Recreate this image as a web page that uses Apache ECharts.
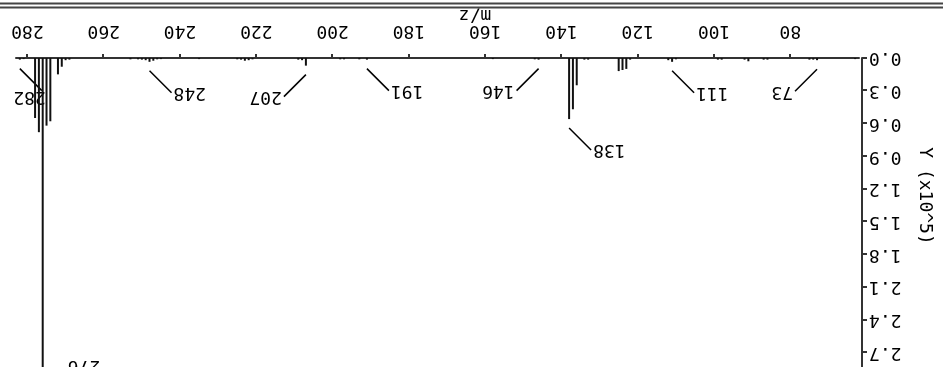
<!DOCTYPE html>
<html>
<head>
<meta charset="utf-8">
<script src="https://cdn.jsdelivr.net/npm/echarts@6/dist/echarts.min.js"></script>
<style>
  html, body { margin: 0; padding: 0; background: #fff; overflow: hidden; }
  /* the reference picture is the spectrum turned upside down; its top runs past the frame */
  #wrap { position: relative; width: 943px; height: 367px; overflow: hidden; transform: rotate(180deg); }
  #chart { position: absolute; left: 0; top: -60px; width: 943px; height: 427px; }
</style>
</head>
<body>
<div id="wrap"><div id="chart"></div></div>
<script>
// stick spectrum: m/z and intensity (x10^5)
const masses = [63, 73, 74, 75, 86, 87, 91, 92, 98, 99,
  110, 111, 112, 122, 123, 124, 125, 133, 134, 136,
  137, 138, 146, 147, 158, 191, 193, 197, 198, 207,
  208, 209, 221, 222, 223, 224, 225, 235, 245, 246,
  247, 248, 249, 250, 251, 253, 269, 270, 271, 272,
  274, 275, 276, 277, 278, 281, 282]
const intensities = [0.01, 0.02, 0.015, 0.015, 0.015, 0.015, 0.03, 0.015, 0.015, 0.015,
  0.012, 0.035, 0.02, 0.015, 0.10, 0.11, 0.12, 0.015, 0.015, 0.25,
  0.47, 0.56, 0.015, 0.012, 0.01, 0.015, 0.012, 0.012, 0.012, 0.07,
  0.02, 0.015, 0.012, 0.02, 0.025, 0.015, 0.012, 0.01, 0.01, 0.012,
  0.025, 0.035, 0.02, 0.015, 0.012, 0.012, 0.015, 0.02, 0.08, 0.15,
  0.58, 0.62, 3.1, 0.68, 0.55, 0.01, 0.015]

// labelled peaks
const labelPeaks = [73, 111, 138, 146, 191, 207, 248, 276, 282]
const xTicks = [80, 100, 120, 140, 160, 180, 200, 220, 240, 260, 280]

// leader direction (+1 = right, -1 = left) and labels drawn above the leader end
const labelDir = { 73: 1, 111: -1, 138: -1, 146: 1, 191: -1, 207: 1, 248: -1, 276: -1, 282: -1 }
const labelAbove = [282]

const FONT = 'DejaVu Sans Mono'
const FS = 18
const TOP = 60 // part of the canvas hidden above the frame
const chart = echarts.init(document.getElementById('chart'))

const option = {
  animation: false,
  backgroundColor: '#fff',
  grid: { left: 84, right: 16, bottom: 58, top: 0.5 },
  xAxis: {
    type: 'value',
    min: 62,
    max: 283,
    offset: 6,
    splitLine: { show: false },
    axisLine: { lineStyle: { color: '#333', width: 2 } },
    axisTick: { customValues: xTicks, length: 4, lineStyle: { color: '#333', width: 2 } },
    axisLabel: { customValues: xTicks, margin: 12, color: '#000', fontFamily: FONT, fontSize: FS }
  },
  yAxis: {
    type: 'value',
    min: 0,
    max: 3.3,
    interval: 0.3,
    offset: 3,
    splitLine: { show: false },
    axisLine: { show: true, lineStyle: { color: '#333', width: 2 } },
    axisTick: { show: true, length: 5, lineStyle: { color: '#333', width: 2 } },
    axisLabel: {
      margin: 7, color: '#000', fontFamily: FONT, fontSize: FS,
      formatter: function (v) { return v.toFixed(1) }
    }
  },
  graphic: [
    { type: 'line', shape: { x1: 0, y1: TOP + 359.5, x2: 943, y2: TOP + 359.5 }, style: { stroke: '#444', lineWidth: 2 } },
    { type: 'line', shape: { x1: 0, y1: TOP + 363.5, x2: 943, y2: TOP + 363.5 }, style: { stroke: '#444', lineWidth: 2 } },
    { type: 'text', x: 468, y: TOP + 352, style: { text: 'm/z', font: FS + 'px "' + FONT + '"', fill: '#000', align: 'center', verticalAlign: 'middle' } },
    { type: 'text', x: 18, y: TOP + 171, rotation: Math.PI / 2, style: { text: 'Y (x10^5)', font: FS + 'px "' + FONT + '"', fill: '#000', align: 'center', verticalAlign: 'middle' } }
  ],
  series: [
    {
      type: 'bar',
      barWidth: 2,
      barMinHeight: 1,
      itemStyle: { color: '#111' },
      data: masses.map(function (m, i) { return [m, intensities[i]] })
    },
    {
      type: 'custom',
      encode: { x: 0, y: 1 },
      data: labelPeaks.map(function (m) { return [m, intensities[masses.indexOf(m)]] }),
      renderItem: function (params, api) {
        const m = api.value(0)
        const p = api.coord([m, api.value(1)])
        const dir = labelDir[m]
        const font = FS + 'px "' + FONT + '"'
        // peak runs past the frame: only the text shows, at the edge
        if (p[1] < TOP + 20) {
          return {
            type: 'text',
            style: { x: p[0] + dir * 25, y: TOP + 1, text: String(m), font: font, fill: '#000',
              align: dir > 0 ? 'left' : 'right', verticalAlign: 'middle' }
          }
        }
        const y0 = p[1] - 9
        const x1 = p[0] + dir * 22
        const y1 = y0 - 22
        let text
        if (labelAbove.indexOf(m) >= 0) {
          text = { x: x1 - 4, y: y1 + 3, align: 'left', verticalAlign: 'bottom' }
        } else {
          text = { x: x1 + dir * 2, y: y1, align: dir > 0 ? 'left' : 'right', verticalAlign: 'middle' }
        }
        return {
          type: 'group',
          children: [
            { type: 'line', shape: { x1: p[0], y1: y0, x2: x1, y2: y1 }, style: { stroke: '#000', lineWidth: 1.5 } },
            { type: 'text', style: Object.assign({ text: String(m), font: font, fill: '#000' }, text) }
          ]
        }
      }
    }
  ]
}
chart.setOption(option)
</script>
</body>
</html>
